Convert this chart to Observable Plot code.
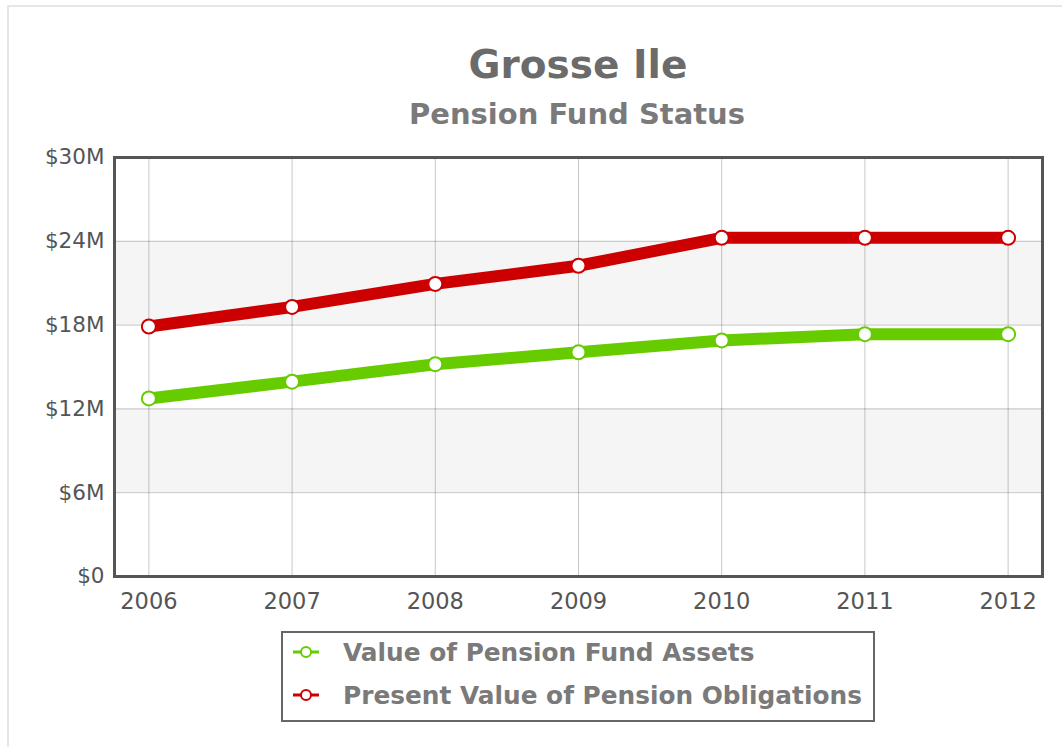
<!DOCTYPE html>
<html>
<head>
<meta charset="utf-8">
<script src="https://cdn.jsdelivr.net/npm/d3@7"></script>
<script src="https://cdn.jsdelivr.net/npm/@observablehq/plot@0.6"></script>
<style>
  html, body { margin: 0; padding: 0; background: #fff; }
  #page { position: relative; width: 1062px; height: 747px; overflow: hidden; font-family: "DejaVu Sans", Verdana, sans-serif; }
  #border { position: absolute; left: 7px; top: 5px; width: 1100px; height: 800px; border-left: 2px solid #e6e6e6; border-top: 2px solid #e6e6e6; }
  #title { position: absolute; left: 0; width: 1156px; top: 42px; text-align: center; font-weight: bold; font-size: 39px; color: #6b6b6b; line-height: 46px; }
  #subtitle { position: absolute; left: 0; width: 1154px; top: 96px; text-align: center; font-weight: bold; font-size: 29px; color: #7a7a7a; line-height: 36px; }
  #chart { position: absolute; left: 0; top: 140px; }
  #legend { position: absolute; left: 281px; top: 631px; width: 590px; height: 87px; border: 2px solid #666; box-sizing: content-box; }
  .item { position: absolute; left: 8px; height: 40px; display: flex; align-items: center; font-weight: bold; font-size: 24.8px; color: #7a7a7a; }
  .item svg { margin-right: 22px; }
</style>
</head>
<body>
<div id="page">
  <div id="border"></div>
  <div id="title">Grosse Ile</div>
  <div id="subtitle">Pension Fund Status</div>
  <div id="chart"></div>
  <div id="legend"></div>
</div>
<script>
const years = [2006, 2007, 2008, 2009, 2010, 2011, 2012];
const assets = [12.75, 13.95, 15.2, 16.05, 16.9, 17.35, 17.35];
const obligations = [17.9, 19.3, 20.95, 22.25, 24.25, 24.25, 24.25];
const seriesNames = ["Value of Pension Fund Assets", "Present Value of Pension Obligations"];
const seriesColors = ["#66cc00", "#cc0000"];
const yTicks = [0, 6, 12, 18, 24, 30];
const bandLow = [6, 18];
const bandHigh = [12, 24];

const rows = [];
years.forEach((yr, i) => {
  rows.push({year: yr, value: assets[i], series: seriesNames[0]});
  rows.push({year: yr, value: obligations[i], series: seriesNames[1]});
});
const bands = bandLow.map((lo, i) => ({lo, hi: bandHigh[i]}));

const pad = 0.24;
const chart = Plot.plot({
  width: 1062,
  height: 480,
  marginLeft: 114,
  marginRight: 20,
  marginTop: 17,
  marginBottom: 44,
  style: {fontFamily: "DejaVu Sans, Verdana, sans-serif", color: "#666", background: "transparent"},
  x: {domain: [years[0] - pad, years[years.length - 1] + pad], ticks: years, tickFormat: d3.format("d"), tickSize: 0, tickPadding: 17, label: null},
  y: {domain: [0, 30], ticks: yTicks, tickFormat: d => d === 0 ? "$0" : `$${d}M`, tickSize: 0, tickPadding: 10, label: null},
  color: {domain: seriesNames, range: seriesColors},
  marks: [
    Plot.rectY(bands, {x1: years[0] - pad, x2: years[years.length - 1] + pad, y1: "lo", y2: "hi", fill: "#f5f5f5"}),
    Plot.gridX(years, {stroke: "#000", strokeOpacity: 0.22, strokeWidth: 1}),
    Plot.gridY(yTicks, {stroke: "#000", strokeOpacity: 0.22, strokeWidth: 1}),
    Plot.axisX({ticks: years, tickFormat: d3.format("d"), tickSize: 0, tickPadding: 17, fontSize: 22.5, fill: "#555"}),
    Plot.axisY({ticks: yTicks, tickFormat: d => d === 0 ? "$0" : `$${d}M`, tickSize: 0, tickPadding: 10, fontSize: 21.5, fill: "#555"}),
    Plot.line(rows, {x: "year", y: "value", z: "series", stroke: "series", strokeWidth: 12, strokeLinejoin: "round"}),
    Plot.dot(rows, {x: "year", y: "value", stroke: "series", fill: "white", r: 7, strokeWidth: 2}),
    Plot.frame({stroke: "#555", strokeWidth: 3})
  ]
});
document.getElementById("chart").appendChild(chart);

const legend = document.getElementById("legend");
seriesNames.forEach((name, i) => {
  const item = document.createElement("div");
  item.className = "item";
  item.style.top = (i === 0 ? -1 : 42) + "px";
  const c = seriesColors[i];
  item.innerHTML = `<svg width="30" height="16"><line x1="2" y1="8" x2="28" y2="8" stroke="${c}" stroke-width="3"/><circle cx="15" cy="8" r="5" fill="white" stroke="${c}" stroke-width="2"/></svg><span>${name}</span>`;
  legend.appendChild(item);
});
</script>
</body>
</html>
